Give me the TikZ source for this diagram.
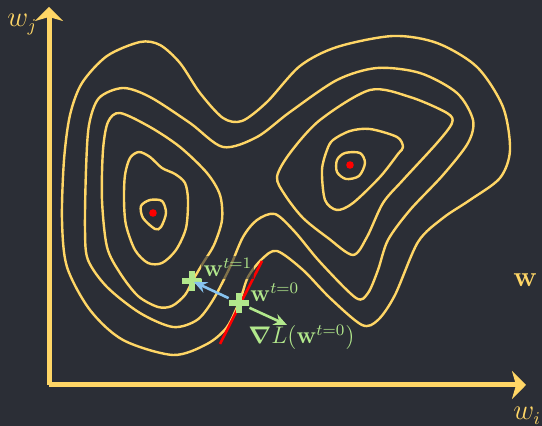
\documentclass[tikz,border=0pt]{standalone}
\usepackage{amsmath,amssymb}
\usepackage{tikz}
\usetikzlibrary{arrows.meta}

\definecolor{bg}{RGB}{43,46,54}
\definecolor{gold}{RGB}{255,214,102}
\definecolor{leaf}{RGB}{178,232,140}
\definecolor{sky}{RGB}{135,195,240}

\begin{document}
\begin{tikzpicture}[x=0.5pt, y=-0.5pt, every node/.style={font=\fontsize{13.5}{16}\selectfont}, >={Stealth[length=2.3mm, width=2mm]},
  contour/.style={gold, line width=1.2pt},
  axis/.style={gold, line width=2.5pt, -{Stealth[length=7pt, width=14pt, inset=2pt]}},
  dot/.style={circle, fill=red, inner sep=0pt, minimum size=3.8pt},
  cross/.style={inner sep=0pt, minimum size=10pt, path picture={\draw[leaf, line width=2.6pt] (path picture bounding box.north) -- (path picture bounding box.south) (path picture bounding box.west) -- (path picture bounding box.east);}},
  lbl/.style={leaf, inner sep=1pt, anchor=base west, font=\fontsize{11.5}{14}\selectfont},
  veil/.style={fill=bg, fill opacity=0.6, text opacity=1}]
  \fill[bg] (0,0) rectangle (542,426);
  \useasboundingbox (0,0) rectangle (542,426);

  \draw[contour] plot[smooth cycle] coordinates {(62,220) (64,160) (70,115) (82,83) (107,56) (140,42) (160,45) (180,63) (200,93) (223,118) (242,121) (267,102) (300,66) (337,47) (393,36) (437,43) (477,67) (503,107) (510,150) (500,178) (470,200) (443,218) (418,242) (395,295) (378,320) (362,325) (330,298) (303,270) (277,251) (262,259) (248,277) (240,300) (227,327) (207,344) (173,355) (123,340) (90,310) (67,267)};
  \draw[contour] plot[smooth cycle] coordinates {(85,230) (86,170) (89,125) (99,98) (123,88) (150,97) (190,123) (223,147) (257,137) (290,112) (337,80) (377,68) (420,73) (457,93) (473,120) (468,143) (443,175) (410,210) (388,240) (378,270) (368,293) (356,298) (320,262) (295,232) (275,214) (257,220) (243,237) (230,267) (213,300) (197,320) (173,327) (140,313) (107,287) (88,260)};
  \draw[contour] plot[smooth cycle] coordinates {(108,122) (120,113) (150,127) (180,147) (207,173) (220,195) (222,220) (214,245) (203,263) (193,280) (185,295) (172,306) (158,307) (138,296) (120,273) (107,247) (102,200) (103,150)};
  \draw[contour] plot[smooth cycle] coordinates {(125,175) (130,158) (139,152) (150,157) (162,168) (175,174) (185,183) (188,200) (186,228) (176,250) (162,263) (148,263) (135,250) (126,225) (124,200)};
  \draw[contour] plot[smooth cycle] coordinates {(141,206) (150,200) (162,201) (166,213) (161,227) (155,229) (143,218)};
  \draw[contour] plot[smooth cycle] coordinates {(277,177) (290,153) (320,120) (370,90) (410,97) (447,113) (452,123) (437,143) (403,180) (383,203) (367,237) (353,255) (328,238) (303,218) (285,195)};
  \draw[contour] plot[smooth cycle] coordinates {(327,150) (333,140) (350,131) (370,129) (397,137) (403,147) (398,154) (380,177) (353,203) (337,210) (325,200) (322,170)};
  \draw[contour] plot[smooth cycle] coordinates {(337,160) (345,153) (360,153) (365,163) (359,176) (346,179) (337,172)};

  \node[dot] (minA) at (153,213) {};
  \node[dot] (minB) at (350,165) {};

  \coordinate (o) at (49,385);
  \coordinate (top) at (49,7);
  \coordinate (right) at (526,385);
  \draw[axis] (o) -- (top);
  \draw[axis] (o) -- (right);
  \node[gold, anchor=base west, inner sep=0pt] (wj) at (7,27) {$w_j$};
  \node[gold, anchor=base west, inner sep=0pt] (wi) at (513,420) {$w_i$};
  \node[gold, anchor=base west, inner sep=0pt] (w) at (513,287) {$\mathbf{w}$};

  \draw[red, line width=1.3pt] (220,344) -- (262,261);

  \node[cross] (w0) at (239,303) {};
  \node[cross] (w1) at (192,281) {};
  \coordinate (g) at (287,325);
  \draw[->, sky, line width=1.3pt, shorten >=1pt] (w0) -- (w1.center);
  \draw[->, leaf, line width=1.3pt] (w0) -- (g);
  \node[lbl, veil] (l1) at (201,277) {$\mathbf{w}^{t=1}$};
  \node[lbl] (l0) at (248,302) {$\mathbf{w}^{t=0}$};
  \node[lbl] (grad) at (246,344) {$\boldsymbol{\nabla} L(\mathbf{w}^{t=0})$};
\end{tikzpicture}
\end{document}
